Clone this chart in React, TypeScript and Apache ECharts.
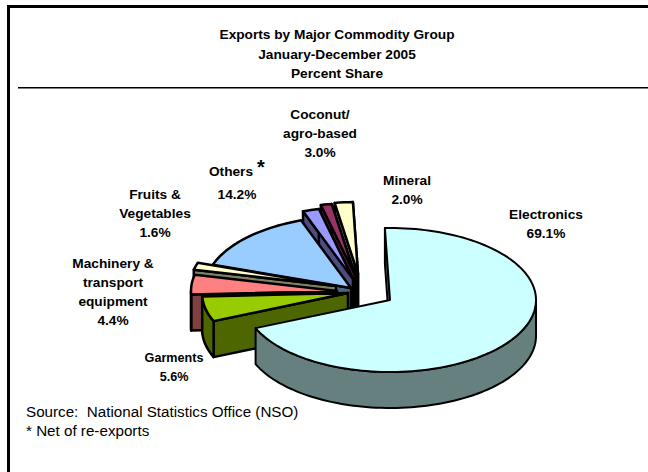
import React, { useEffect, useRef } from "react";
import * as echarts from "echarts";

// Commodity shares, clockwise from the top of the pie.
const commodities = ["Electronics", "Garments", "Machinery & transport equipment", "Fruits & Vegetables", "Others", "Coconut", "Agro-based", "Mineral"];
const shares = [69.1, 5.6, 4.4, 1.6, 14.2, 1.8, 1.2, 2.0];
const sliceColors = ["#CCFFFF", "#99CC00", "#FF8080", "#FFFFCC", "#99CCFF", "#9999FF", "#993366", "#FFFFCC"];

const titleLines = ["Exports by Major Commodity Group", "January-December 2005", "Percent Share"];
const footnotes = ["Source:  National Statistics Office (NSO)", "* Net of re-exports"];

// Apex of every exploded wedge on the page.
const apexes = [[390, 300], [348, 293], [337, 291], [336, 286], [351, 288], [353, 279], [355, 275], [358, 274]];

const START_DEG = -2;
const RX = 146;
const RY = 72;
const DEPTH = 36;
const TOTAL = shares.reduce((a, b) => a + b, 0);

const rimPoint = (cx: number, cy: number, deg: number, drop = 0) => {
  const r = (deg * Math.PI) / 180;
  return [cx + RX * Math.sin(r), cy - RY * Math.cos(r) + drop];
};

const shade = (hex: string) => {
  const n = parseInt(hex.slice(1), 16);
  const half = (v: number) => Math.round(v / 2);
  return `rgb(${half((n >> 16) & 255)},${half((n >> 8) & 255)},${half(n & 255)})`;
};

const sliceRange = (i: number) => {
  const before = shares.slice(0, i).reduce((a, b) => a + b, 0);
  return [START_DEG + (before / TOTAL) * 360, START_DEG + ((before + shares[i]) / TOTAL) * 360];
};

const arc = (cx: number, cy: number, from: number, to: number, drop = 0) => {
  const steps = Math.max(2, Math.ceil((to - from) / 2));
  const pts: number[][] = [];
  for (let k = 0; k <= steps; k++) pts.push(rimPoint(cx, cy, from + ((to - from) * k) / steps, drop));
  return pts;
};

const renderWedge = (_params: unknown, api: any) => {
  const i = api.value(0) as number;
  const [from, to] = sliceRange(i);
  const [cx, cy] = apexes[i];
  const top = sliceColors[i];
  const side = shade(top);
  const lineWidth = i === 0 ? 2 : 2.5;
  const wall = (deg: number) => {
    const p = rimPoint(cx, cy, deg);
    return [[cx, cy], p, [p[0], p[1] + DEPTH], [cx, cy + DEPTH]];
  };
  const poly = (points: number[][], fill: string) => ({
    type: "polygon",
    shape: { points },
    style: { fill, stroke: "#000", lineWidth, lineJoin: "round" },
  });
  const children: any[] = [poly(wall(from), side)];
  // The far wall of a left-hand wedge faces away from the viewer.
  if (to < 180 || to > 345) children.push(poly(wall(to), side));
  // Only the front half of the rim is ever visible.
  const rimFrom = Math.max(from, 90);
  const rimTo = Math.min(to, 270);
  if (rimTo > rimFrom) {
    children.push(poly([...arc(cx, cy, rimFrom, rimTo), ...arc(cx, cy, rimFrom, rimTo, DEPTH).reverse()], side));
  }
  children.push(poly([[cx, cy], ...arc(cx, cy, from, to)], top));
  return { type: "group", children };
};

const FAMILY = "'Liberation Sans', Arial, sans-serif";
const BOLD = `bold 13.7px ${FAMILY}`;
const SMALL_BOLD = `bold 12.6px ${FAMILY}`;
const PLAIN = `15.2px ${FAMILY}`;

type Caption = { lines: string[]; value: string; x: number; y: number; font?: string };
const captions: Caption[] = [
  { lines: ["Coconut/", "agro-based"], value: "3.0%", x: 320, y: 114 },
  { lines: ["Mineral"], value: "2.0%", x: 407, y: 180 },
  { lines: ["Electronics"], value: "69.1%", x: 546, y: 214 },
  { lines: ["Fruits &", "Vegetables"], value: "1.6%", x: 155, y: 194 },
  { lines: ["Machinery &", "transport", "equipment"], value: "4.4%", x: 113, y: 263 },
  { lines: ["Garments"], value: "5.6%", x: 174, y: 358, font: SMALL_BOLD },
];

const label = (text: string, x: number, y: number, font = BOLD, textAlign = "center") => ({
  type: "text",
  style: { text, x, y, font, textAlign, verticalAlign: "middle", fill: "#000" },
});

const buildGraphics = () => {
  const out: any[] = [
    { type: "rect", shape: { x: 7, y: 5, width: 641, height: 3 }, style: { fill: "#000" } },
    { type: "rect", shape: { x: 7, y: 5, width: 3, height: 467 }, style: { fill: "#000" } },
    { type: "rect", shape: { x: 18, y: 87, width: 630, height: 1.5 }, style: { fill: "#000" } },
  ];
  titleLines.forEach((t, k) => out.push(label(t, 337, [34, 54, 73][k])));
  captions.forEach((c) => {
    [...c.lines, c.value].forEach((t, k) => out.push(label(t, c.x, c.y + k * 19.3, c.font ?? BOLD)));
  });
  out.push(label("Others", 231, 171));
  out.push(label("14.2%", 237, 194));
  out.push(label("*", 261, 167, `bold 20px ${FAMILY}`));
  footnotes.forEach((t, k) => out.push(label(t, 26, 411 + k * 19, PLAIN, "left")));
  return out;
};

// Wedges are painted back to front so nearer ones hide what lies behind them.
const paintOrder = [7, 6, 5, 4, 3, 2, 1, 0];

export default function App() {
  const ref = useRef<HTMLDivElement>(null);
  useEffect(() => {
    document.body.style.margin = "0";
    const chart = echarts.init(ref.current!, undefined, { renderer: "svg" });
    chart.setOption({
      animation: false,
      backgroundColor: "#fff",
      graphic: buildGraphics(),
      series: [
        {
          type: "custom",
          name: "Percent Share",
          coordinateSystem: "none",
          renderItem: renderWedge,
          data: paintOrder.map((i) => ({ name: commodities[i], value: [i, shares[i]] })),
          silent: true,
        },
      ],
    });
    return () => chart.dispose();
  }, []);
  return <div ref={ref} style={{ width: 648, height: 472 }} />;
}
